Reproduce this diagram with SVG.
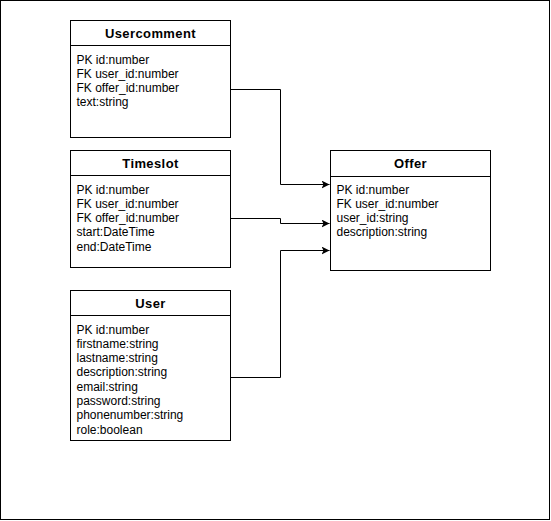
<svg xmlns="http://www.w3.org/2000/svg" width="551" height="521" viewBox="0 0 551 521">
  <style>
    .box { fill: #ffffff; stroke: #000000; stroke-width: 1; }
    .sep { stroke: #000000; stroke-width: 1; fill: none; }
    .title { font-family: "Liberation Sans", Arial, sans-serif; font-size: 13px; font-weight: bold; letter-spacing: 0.4px; fill: #000000; text-anchor: middle; }
    .field { font-family: "Liberation Sans", Arial, sans-serif; font-size: 12px; fill: #000000; }
    .edge { fill: none; stroke: #000000; stroke-width: 1; }
  </style>
  <defs>
    <marker id="arrow" markerUnits="userSpaceOnUse" markerWidth="10" markerHeight="10" refX="8" refY="4" orient="auto">
      <path d="M0,0 L8,4 L0,8 L2,4 Z" fill="#000000"/>
    </marker>
  </defs>

  <rect x="0.5" y="0.5" width="549" height="519" fill="#ffffff" stroke="#000000" stroke-width="1"/>

  <g id="connectors">
    <polyline class="edge" points="230.5,89.5 280.5,89.5 280.5,184.5 329.5,184.5" marker-end="url(#arrow)"/>
    <polyline class="edge" points="230.5,218.5 280.5,218.5 280.5,223.5 329.5,223.5" marker-end="url(#arrow)"/>
    <polyline class="edge" points="230.5,377.5 280.5,377.5 280.5,250.5 329.5,250.5" marker-end="url(#arrow)"/>
  </g>

  <g id="usercomment">
    <rect class="box" x="70.5" y="20.5" width="160" height="117"/>
    <line class="sep" x1="70.5" y1="45.5" x2="230.5" y2="45.5"/>
    <text class="title" x="150.5" y="37.5">Usercomment</text>
    <text class="field" x="76.5" y="63.5">PK id:number</text>
    <text class="field" x="76.5" y="77.8">FK user_id:number</text>
    <text class="field" x="76.5" y="92.1">FK offer_id:number</text>
    <text class="field" x="76.5" y="106.4">text:string</text>
  </g>

  <g id="timeslot">
    <rect class="box" x="70.5" y="150.5" width="160" height="117"/>
    <line class="sep" x1="70.5" y1="175.5" x2="230.5" y2="175.5"/>
    <text class="title" x="150.5" y="167.5">Timeslot</text>
    <text class="field" x="76.5" y="193.5">PK id:number</text>
    <text class="field" x="76.5" y="207.8">FK user_id:number</text>
    <text class="field" x="76.5" y="222.1">FK offer_id:number</text>
    <text class="field" x="76.5" y="236.4">start:DateTime</text>
    <text class="field" x="76.5" y="250.7">end:DateTime</text>
  </g>

  <g id="user">
    <rect class="box" x="70.5" y="290.5" width="160" height="150"/>
    <line class="sep" x1="70.5" y1="315.5" x2="230.5" y2="315.5"/>
    <text class="title" x="150.5" y="307.5">User</text>
    <text class="field" x="76.5" y="333.5">PK id:number</text>
    <text class="field" x="76.5" y="347.8">firstname:string</text>
    <text class="field" x="76.5" y="362.1">lastname:string</text>
    <text class="field" x="76.5" y="376.4">description:string</text>
    <text class="field" x="76.5" y="390.7">email:string</text>
    <text class="field" x="76.5" y="405.0">password:string</text>
    <text class="field" x="76.5" y="419.3">phonenumber:string</text>
    <text class="field" x="76.5" y="433.6">role:boolean</text>
  </g>

  <g id="offer">
    <rect class="box" x="330.5" y="150.5" width="160" height="120"/>
    <line class="sep" x1="330.5" y1="176.5" x2="490.5" y2="176.5"/>
    <text class="title" x="410.5" y="168">Offer</text>
    <text class="field" x="336.5" y="193.5">PK id:number</text>
    <text class="field" x="336.5" y="207.8">FK user_id:number</text>
    <text class="field" x="336.5" y="222.1">user_id:string</text>
    <text class="field" x="336.5" y="236.4">description:string</text>
  </g>
</svg>
